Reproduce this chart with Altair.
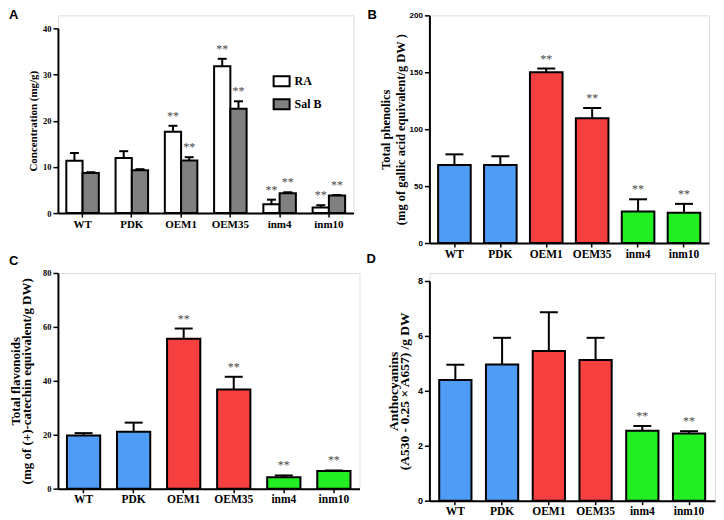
import altair as alt
import pandas as pd

# ---------------- data ----------------
genotypes = ["WT", "PDK", "OEM1", "OEM35", "inm4", "inm10"]
bar_colors = ["#4e9cf6", "#4e9cf6", "#f64040", "#f64040", "#22ee22", "#22ee22"]

series_names = ["RA", "Sal B"]
series_fills = ["#ffffff", "#808080"]
ra_mean = [11.35, 11.9, 17.6, 31.8, 1.9, 1.2]
ra_err = [1.65, 1.5, 1.3, 1.6, 1.0, 0.5]
ra_sig = ["", "", "**", "**", "**", "**"]
salb_mean = [8.7, 9.25, 11.4, 22.6, 4.3, 3.8]
salb_err = [0.15, 0.25, 0.7, 1.6, 0.2, 0.1]
salb_sig = ["", "", "**", "**", "**", "**"]

phen_mean = [68.5, 68.5, 150.0, 109.7, 27.8, 26.6]
phen_err = [9.4, 7.7, 3.3, 8.9, 10.6, 7.8]
phen_sig = ["", "", "**", "**", "**", "**"]

flav_mean = [19.75, 21.1, 55.6, 36.8, 4.2, 6.6]
flav_err = [0.85, 3.4, 3.8, 4.7, 0.7, 0.15]
flav_sig = ["", "", "**", "**", "**", "**"]

anth_mean = [4.39, 4.96, 5.45, 5.12, 2.55, 2.45]
anth_err = [0.56, 0.97, 1.41, 0.81, 0.17, 0.08]
anth_sig = ["", "", "", "", "**", "**"]

SERIF = "Liberation Serif"
SANS = "Liberation Sans"
STAR = "#4a4a4a"


def x_axis(size):
    return alt.Axis(title=None, labelAngle=0, labelFont=SERIF, labelFontWeight="bold",
                    labelFontSize=size, labelColor="black", labelPadding=1,
                    domainColor="black", domainWidth=2, tickColor="black",
                    tickWidth=1.5, tickSize=4, grid=False)


def y_axis(title, values, lfont, lsize, tsize, lh, tpad):
    return alt.Axis(title=title, values=values, grid=False,
                    labelFont=lfont, labelFontWeight="bold", labelFontSize=lsize,
                    labelColor="black", labelPadding=2,
                    titleFont=SERIF, titleFontWeight="bold", titleFontSize=tsize,
                    titleColor="black", titleLineHeight=lh, titlePadding=tpad,
                    domainColor="black", domainWidth=2, tickColor="black",
                    tickWidth=1.5, tickSize=5)


def letter_layer(letter, lx, ly):
    return alt.Chart(pd.DataFrame({"t": [letter]})).mark_text(
        font=SANS, fontWeight="bold", fontSize=13, align="left",
        baseline="alphabetic", color="black"
    ).encode(x=alt.value(lx), y=alt.value(ly), text="t:N")


def simple_panel(letter, lx, ly, mean, err, sig, ymax, yticks, title, lfont, lsize,
                 tsize, lh, tpad, w, h, pi, po, cap, yrange=None):
    df = pd.DataFrame({
        "genotype": genotypes,
        "mean": mean,
        "upper": [m + e for m, e in zip(mean, err)],
        "sig": sig,
        "color": bar_colors,
    })
    x = alt.X("genotype:N", sort=genotypes,
              scale=alt.Scale(paddingInner=pi, paddingOuter=po), axis=x_axis(11.5))
    if yrange is None:
        ysc = alt.Scale(domain=[0, ymax], nice=False)
    else:
        ysc = alt.Scale(domain=[0, ymax], nice=False, range=yrange)
    yax = y_axis(title, yticks, lfont, lsize, tsize, lh, tpad)
    base = alt.Chart(df)
    bars = base.mark_bar(stroke="black", strokeWidth=2).encode(
        x=x, y=alt.Y("mean:Q", scale=ysc, axis=yax),
        fill=alt.Fill("color:N", scale=None))
    rules = base.mark_rule(color="black", strokeWidth=2).encode(
        x=x, y=alt.Y("mean:Q", scale=ysc, axis=yax), y2="upper:Q")
    caps = base.mark_tick(color="black", thickness=2, size=cap, opacity=1).encode(
        x=x, y=alt.Y("upper:Q", scale=ysc, axis=yax))
    stars = base.mark_text(font=SERIF, fontSize=12, color=STAR,
                           baseline="alphabetic", dy=-6).encode(
        x=x, y=alt.Y("upper:Q", scale=ysc, axis=yax), text="sig:N")
    return alt.layer(bars, rules, caps, stars, letter_layer(letter, lx, ly)).properties(
        width=w, height=h)


# ---------------- panel A ----------------
rows = []
for i, g in enumerate(genotypes):
    rows.append({"genotype": g, "series": "RA", "mean": ra_mean[i],
                 "upper": ra_mean[i] + ra_err[i], "sig": ra_sig[i]})
    rows.append({"genotype": g, "series": "Sal B", "mean": salb_mean[i],
                 "upper": salb_mean[i] + salb_err[i], "sig": salb_sig[i]})
dfA = pd.DataFrame(rows)

A_H = 198
xA = alt.X("genotype:N", sort=genotypes,
           scale=alt.Scale(paddingInner=0.34, paddingOuter=0.17), axis=x_axis(11))
xoA = alt.XOffset("series:N", sort=series_names,
                  scale=alt.Scale(paddingInner=0, paddingOuter=0))
yscA = alt.Scale(domain=[0, 40], nice=False, range=[A_H, 13])
yaxA = y_axis("Concentration (mg/g)", [0, 10, 20, 30, 40], SERIF, 8.5, 11, 12, 4)
baseA = alt.Chart(dfA)
barsA = baseA.mark_bar(stroke="black", strokeWidth=2).encode(
    x=xA, xOffset=xoA, y=alt.Y("mean:Q", scale=yscA, axis=yaxA),
    fill=alt.Fill("series:N", sort=series_names,
                  scale=alt.Scale(domain=series_names, range=series_fills),
                  legend=alt.Legend(title=None, orient="none", legendX=218, legendY=60,
                                    symbolType="M-1.6,-1H1.6V1H-1.6Z", symbolSize=100,
                                    symbolStrokeColor="black", symbolStrokeWidth=2,
                                    symbolOpacity=1,
                                    labelFont=SERIF, labelFontWeight="bold",
                                    labelFontSize=12, labelColor="black",
                                    labelOffset=7, rowPadding=5)))
rulesA = baseA.mark_rule(color="black", strokeWidth=2).encode(
    x=xA, xOffset=xoA, y=alt.Y("mean:Q", scale=yscA, axis=yaxA), y2="upper:Q")
capsA = baseA.mark_tick(color="black", thickness=2, size=9, opacity=1).encode(
    x=xA, xOffset=xoA, y=alt.Y("upper:Q", scale=yscA, axis=yaxA))
starsA = baseA.mark_text(font=SERIF, fontSize=12, color=STAR,
                         baseline="alphabetic", dy=-6).encode(
    x=xA, xOffset=xoA, y=alt.Y("upper:Q", scale=yscA, axis=yaxA), text="sig:N")
panelA = alt.layer(barsA, rulesA, capsA, starsA, letter_layer("A", -49, 4)).properties(
    width=296, height=A_H)

# ---------------- panels B, C, D ----------------
panelB = simple_panel("B", -62, 4, phen_mean, phen_err, phen_sig, 200, [0, 50, 100, 150, 200],
                      ["Total phenolics", "(mg of gallic acid equivalent/g DW )"],
                      SANS, 8, 12.5, 15, 2, 280, 228, 0.29, 0.19, 18)
panelC = simple_panel("C", -49, -8, flav_mean, flav_err, flav_sig, 80, [0, 20, 40, 60, 80],
                      ["Total flavonoids", "(mg of (+)-catechin equivalent/g DW)"],
                      SERIF, 8.5, 13, 11, 9, 302, 216, 0.336, 0.18, 18)
panelD = simple_panel("D", -63, -10, anth_mean, anth_err, anth_sig, 8, [0, 2, 4, 6, 8],
                      ["Anthocyanins", "(A530 - 0.25 \u00d7 A657) /g DW"],
                      SANS, 9, 13.5, 11, 6, 286, 228, 0.31, 0.21, 18, yrange=[228, 8])

chart = alt.concat(panelA, panelB, panelC, panelD, columns=2,
                   spacing=alt.RowColnumber(row=30, column=70),
                   bounds="flush").resolve_scale(fill="independent").properties(
    padding=0
).configure_view(stroke=None).configure(background="white")

chart.save("out.html", embed_options={"renderer": "svg", "actions": False})
